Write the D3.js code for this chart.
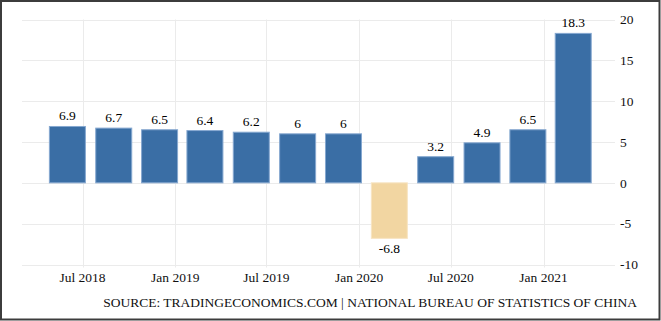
<!DOCTYPE html>
<html>
<head>
<meta charset="utf-8">
<script src="https://cdn.jsdelivr.net/npm/d3@7"></script>
<style>
  html, body { margin: 0; padding: 0; background: #fff; }
  svg { display: block; }
</style>
</head>
<body>
<svg id="chart" width="661" height="321"></svg>
<script>
// quarterly GDP growth, YoY %
const quarters = ['2018-06-01', '2018-09-01', '2018-12-01', '2019-03-01', '2019-06-01', '2019-09-01',
  '2019-12-01', '2020-03-01', '2020-06-01', '2020-09-01', '2020-12-01', '2021-03-01'];
const growth = [6.9, 6.7, 6.5, 6.4, 6.2, 6, 6, -6.8, 3.2, 4.9, 6.5, 18.3];
const yTicks = [-10, -5, 0, 5, 10, 15, 20];
const sourceText = 'SOURCE: TRADINGECONOMICS.COM | NATIONAL BUREAU OF STATISTICS OF CHINA';

const parse = d3.timeParse('%Y-%m-%d');
const data = quarters.map((q, i) => ({ date: parse(q), value: growth[i] }));

const serif = 'Liberation Serif, serif';
const svg = d3.select('#chart');
const width = 661, height = 321;

const plot = { left: 22, right: 615, top: 19.5, bottom: 264.5 };

let x = d3.scaleTime()
  .domain([parse('2018-07-01'), parse('2021-01-01')])
  .range([82.5, 543.5]);

let y = d3.scaleLinear()
  .domain([-10, 20])
  .range([plot.bottom, plot.top]);

const barWidth = 36;

// gridlines
const grid = svg.append('g').attr('stroke', '#ebebeb').attr('stroke-width', 1);
grid.selectAll('line.h').data(yTicks).enter().append('line')
  .attr('x1', plot.left).attr('x2', plot.right)
  .attr('y1', d => Math.round(y(d)) + 0.5).attr('y2', d => Math.round(y(d)) + 0.5);

const xTicks = x.ticks(d3.timeMonth.every(6))
  .filter(d => d.getMonth() === 0 || d.getMonth() === 6);
grid.selectAll('line.v').data(xTicks).enter().append('line')
  .attr('x1', d => Math.round(x(d)) + 0.5).attr('x2', d => Math.round(x(d)) + 0.5)
  .attr('y1', plot.top).attr('y2', plot.bottom + 3);

// bars
svg.append('g')
  .selectAll('rect').data(data).enter().append('rect')
  .attr('x', d => x(d.date) - barWidth / 2)
  .attr('y', d => y(Math.max(0, d.value)))
  .attr('width', barWidth)
  .attr('height', d => Math.abs(y(d.value) - y(0)))
  .attr('fill', d => d.value < 0 ? '#f2d6a2' : '#3a6ea5')
  .attr('stroke', d => d.value < 0 ? '#f7e4c2' : '#86a8d0')
  .attr('stroke-width', 1);

// value labels
svg.append('g')
  .style('font-family', serif)
  .attr('font-size', 13.5)
  .attr('fill', '#000')
  .attr('text-anchor', 'middle')
  .selectAll('text').data(data).enter().append('text')
  .attr('x', d => x(d.date))
  .attr('y', d => d.value < 0 ? y(d.value) + 15 : y(d.value) - 6)
  .text(d => d.value);

// y axis on the right
svg.append('g')
  .style('font-family', serif)
  .attr('font-size', 13.5)
  .attr('fill', '#111')
  .selectAll('text').data(yTicks).enter().append('text')
  .attr('x', 620)
  .attr('y', d => y(d))
  .attr('dy', '0.35em')
  .text(d => d);

// x axis labels
const fmt = d3.timeFormat('%b %Y');
svg.append('g')
  .style('font-family', serif)
  .attr('font-size', 13.5)
  .attr('fill', '#111')
  .attr('text-anchor', 'middle')
  .selectAll('text').data(xTicks).enter().append('text')
  .attr('x', d => x(d))
  .attr('y', 282)
  .text(d => fmt(d));

// source
svg.append('text')
  .attr('x', 637)
  .attr('y', 306.5)
  .attr('text-anchor', 'end')
  .style('font-family', serif)
  .attr('font-size', 13.5)
  .attr('fill', '#111')
  .text(sourceText);

// frame
svg.append('rect')
  .attr('x', 1).attr('y', 1)
  .attr('width', width - 2.5).attr('height', height - 2.5)
  .attr('fill', 'none')
  .attr('stroke', '#3c3c3c')
  .attr('stroke-width', 2);
</script>
</body>
</html>
